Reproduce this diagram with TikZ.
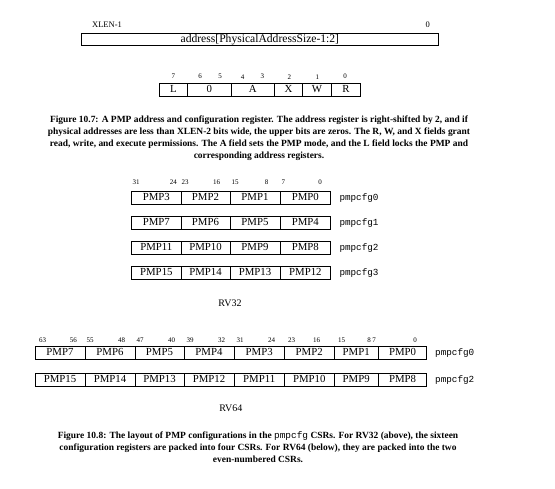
\documentclass[tikz,border=0pt]{standalone}
\usepackage{fontspec}
\setmainfont{Liberation Serif}
\setmonofont{Liberation Mono}

\tikzset{
  field/.style={draw, line width=0.6pt, minimum height=12.6pt, inner sep=0pt,
    font=\fontsize{10.8}{12}\selectfont, text height=7pt, text depth=1pt},
  bitnum/.style={font=\fontsize{7}{8}\selectfont, inner sep=0pt},
  cfgname/.style={font=\ttfamily\fontsize{9.3}{11}\selectfont, anchor=west, inner sep=0pt},
  archname/.style={font=\fontsize{10}{11}\selectfont, inner sep=0pt},
  captext/.style={font=\bfseries\fontsize{9.45}{12.2}\selectfont, align=center, inner sep=0pt},
}

\begin{document}
\begin{tikzpicture}[x=1pt, y=-1pt]
    \useasboundingbox (0,0) rectangle (555,489);

    % address register
    \node[field, minimum width=356.3pt, font=\fontsize{11.6}{13}\selectfont] (addr) at (259.85,39.2)
        {address[PhysicalAddressSize-1:2]};
    \node[bitnum, font=\fontsize{8.5}{9}\selectfont] (xlen) at (107,25) {XLEN-1};
    \node[bitnum, font=\fontsize{8.5}{9}\selectfont] (addrlo) at (427.7,25) {0};

    % configuration register
    \foreach \xa/\xb/\f [count=\i] in {159.3/187.7/L, 187.7/231/0, 231/274.3/A,
                                        274.3/302.7/X, 302.7/331/W, 331/360.7/R}
        \node[field, minimum width={(\xb-\xa)*1pt}] (cfg\i) at ({(\xa+\xb)/2},89.7) {\f};
    \foreach \x/\b in {173.3/7, 200/6, 220/5, 242.7/4, 262.3/3, 289.3/2, 317.3/1, 345/0}
        \node[bitnum] (cbit\b) at (\x,76.7) {\b};

    \node[captext] (cap107) at (259,138.4) {%
        Figure 10.7: A PMP address and configuration register. The address register is right-shifted by 2, and if\\
        physical addresses are less than XLEN-2 bits wide, the upper bits are zeros. The R, W, and X fields grant\\
        read, write, and execute permissions. The A field sets the PMP mode, and the L field locks the PMP and\\
        corresponding address registers.};

    % RV32: four pmpcfg CSRs
    \foreach \x/\b in {136/31, 173.3/24, 185/23, 216.7/16, 235/15, 266.7/8, 283.3/7, 320/0}
        \node[bitnum] (b32n\b) at (\x,182.3) {\b};
    \foreach \k/\pa/\pb/\pc/\pd in {0/3/2/1/0, 1/7/6/5/4, 2/11/10/9/8, 3/15/14/13/12} {
        \pgfmathsetmacro{\ym}{198+25*\k}
        \node[field, minimum width=49.3pt] (rv32p\pa) at (156.35,\ym) {PMP\pa};
        \node[field, minimum width=49pt] (rv32p\pb) at (205.5,\ym) {PMP\pb};
        \node[field, minimum width=50pt] (rv32p\pc) at (255,\ym) {PMP\pc};
        \node[field, minimum width=50.7pt] (rv32p\pd) at (305.35,\ym) {PMP\pd};
        \node[cfgname] (rv32cfg\k) at (339.3,\ym) {pmpcfg\k};
    }
    \node[archname] (rv32) at (230,303.3) {RV32};

    % RV64: pmpcfg0 and pmpcfg2
    \foreach \x/\b in {42.7/63, 73.3/56, 90/55, 121.7/48, 140/47, 171.7/40, 190/39, 221.7/32,
                       240/31, 271.7/24, 291.7/23, 316.7/16, 341.7/15, 369/8, 374/7, 415/0}
        \node[bitnum] (b64n\b) at (\x,340) {\b};
    \foreach \xa/\xb/\n in {35/85/7, 85/135/6, 135/184/5, 184/234/4, 234/284.5/3,
                            284.5/334/2, 334/378.5/1, 378.5/426.7/0} {
        \pgfmathtruncatemacro{\m}{\n+8}
        \node[field, minimum width={(\xb-\xa)*1pt}] (rv64p\n) at ({(\xa+\xb)/2},352.8) {PMP\n};
        \node[field, minimum width={(\xb-\xa)*1pt}] (rv64p\m) at ({(\xa+\xb)/2},379.6) {PMP\m};
    }
    \node[cfgname] (rv64cfg0) at (435,352.8) {pmpcfg0};
    \node[cfgname] (rv64cfg2) at (435,379.6) {pmpcfg2};
    \node[archname] (rv64) at (230.8,408.3) {RV64};

    \node[captext] (cap108) at (258,447.2) {%
        Figure 10.8: The layout of PMP configurations in the {\mdseries\ttfamily pmpcfg} CSRs. For RV32 (above), the sixteen\\
        configuration registers are packed into four CSRs. For RV64 (below), they are packed into the two\\
        even-numbered CSRs.};
\end{tikzpicture}
\end{document}
